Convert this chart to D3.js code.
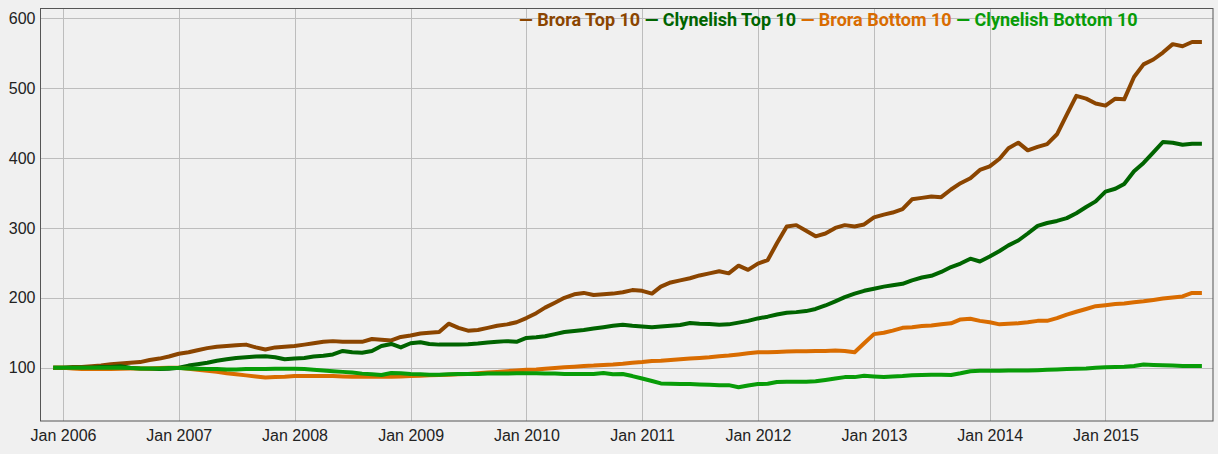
<!DOCTYPE html>
<html>
<head>
<meta charset="utf-8">
<script src="https://cdn.jsdelivr.net/npm/d3@7"></script>
<style>
    body { margin: 0; background: #f0f0f0; }
    svg { display: block; font-family: Roboto, 'Noto Sans', sans-serif; }
    .tickText { font-size: 16px; fill: #222; }
    .legendText { font-size: 18px; font-weight: bold; }
</style>
</head>
<body>
<svg id="chart" width="1218" height="454"></svg>
<script>
// Monthly index values, Dec 2005 .. Nov 2015 (120 months).
var seriesNames = [ 'Brora Top 10', 'Clynelish Top 10', 'Brora Bottom 10', 'Clynelish Bottom 10' ];
var seriesColours = [ '#8b4500', '#006400', '#d96c00', '#089c08' ];

var broraTop = [
    100, 100, 101, 101, 102, 103, 105, 106, 107, 108, 111, 113, 116,
    120, 122, 125, 128, 130, 131, 132, 133, 129, 126, 129, 130, 131,
    133, 135, 137, 138, 137, 137, 137, 141, 140, 139, 144, 146,
    149, 150, 151, 163, 157, 153, 154, 157, 160, 162, 165, 171,
    178, 186, 193, 200, 205, 207, 204, 205, 206, 208, 211, 210,
    206, 216, 222, 225, 228, 232, 235, 238, 235, 246, 240, 249,
    254, 278, 302, 304, 296, 288, 292, 300, 304, 302, 305, 315,
    319, 322, 327, 341, 343, 345, 344, 355, 364, 371, 383, 388,
    399, 414, 422, 411, 416, 420, 434, 462, 489, 485, 478, 475,
    485, 484, 516, 534, 541, 551, 563, 560, 566, 566
];
var clynelishTop = [
    100, 100, 100, 100, 100, 101, 101, 102, 100, 99, 98.5, 98, 98.5,
    100, 103, 105, 107, 110, 112, 114, 115, 116, 116.5, 115, 112, 113,
    114, 116, 117, 119, 124, 122, 121.5, 124, 131, 134, 129, 135,
    136.5, 134, 133, 133, 133, 133.5, 134.5, 136, 137, 138, 137, 142.5,
    143.5, 145, 148, 151, 152.5, 154, 156, 158, 160, 161.5, 160, 159,
    158, 159, 160, 161, 164, 163, 162.5, 161.5, 162, 164.5, 167, 170.5,
    173, 176, 178.5, 179.5, 181, 184, 189, 195, 201, 206, 210, 213,
    216, 218, 220, 225, 229, 231.5, 237, 244, 249, 256, 252, 259,
    267, 275, 282, 292, 303, 307, 310, 314, 321, 330, 338, 352,
    356, 363, 381, 393, 408, 423, 422, 419, 420.5, 420.5
];
var broraBottom = [
    100, 100, 99, 98, 98, 98, 98, 98.5, 99, 99, 99, 99.5, 100,
    100, 98.5, 97, 95.5, 94, 92, 90.5, 89, 87.5, 86, 86.5, 87, 88,
    88, 88, 88, 88, 87.5, 87, 87, 87, 87, 87, 87.5, 88,
    88.5, 89, 89.5, 90, 90.5, 91, 92, 93, 94, 95, 96, 97,
    97.5, 98.5, 99.5, 100.5, 101.5, 102.5, 103, 104, 104.5, 105.5, 107, 108,
    109.5, 110, 111, 112, 113, 114, 115, 116.5, 117.5, 119, 120.5, 122,
    122, 122.5, 123, 123.5, 123.5, 124, 124, 124.5, 124, 122, 135, 148,
    150, 153, 157, 158, 159.5, 160.5, 162, 163.5, 169, 170, 167, 165,
    162, 163, 163.5, 165, 167, 167, 171, 176, 180, 184, 188, 189.5,
    191, 192, 193.5, 195, 197, 199, 200.5, 202, 207, 207
];
var clynelishBottom = [
    100, 100, 100, 100, 100, 100, 100, 100, 99.5, 99, 99, 99, 99.5,
    99.5, 99, 98.5, 98, 98, 97.5, 97.5, 98, 98, 98, 98.5, 98.5, 98.5,
    98, 97, 96, 95, 94, 93, 91.5, 90.5, 89.5, 92.5, 92, 91,
    90.5, 90, 90, 90.5, 91, 91, 91, 91.5, 91.5, 91.5, 92, 92,
    92, 91.5, 91.5, 91, 91, 91, 91, 92.5, 90.5, 91, 88, 84.5,
    81, 77.5, 77, 76.5, 76.5, 76, 75.5, 75, 75, 72, 74.5, 76.5,
    77, 79.5, 80, 80, 80, 80.5, 82.5, 84.5, 86.5, 86.5, 88.5, 87.5,
    86.5, 87.5, 88, 89, 89.5, 90, 90, 89.5, 92, 95, 95.5, 95.5,
    95.5, 96, 96, 96, 96.5, 97, 97.5, 98, 98.5, 99, 100, 100.5,
    101, 101.5, 102.5, 104.5, 104, 103.5, 103, 102.5, 102.5, 102.5
];

var months = d3.timeMonth.range( new Date( 2005, 11, 1 ), new Date( 2015, 11, 1 ) );
var yTicks = [ 100, 200, 300, 400, 500, 600 ];
var xTicks = d3.range( 2006, 2016 ).map( yr => new Date( yr, 0, 1 ) );
var xDomain = [ new Date( 2005, 9, 22 ), new Date( 2015, 11, 6 ) ];
var yDomain = [ 23.7, 614 ];

var Chart = {};
Chart.margins = { left: 40.5, right: 5, top: 8.5, bottom: 33 };

Chart.draw = function () {
    var svg = d3.select( '#chart' ),
        width = +svg.attr( 'width' ),
        height = +svg.attr( 'height' ),
        m = Chart.margins,
        x = d3.scaleTime().domain( xDomain ).range( [ m.left, width - m.right ] ),
        y = d3.scaleLinear().domain( yDomain ).range( [ height - m.bottom, m.top ] ),
        allSeries = [ broraTop, clynelishTop, broraBottom, clynelishBottom ];

    // Grid lines.
    svg.append( 'g' )
        .selectAll( 'line' )
        .data( yTicks )
        .join( 'line' )
        .attr( 'x1', m.left ).attr( 'x2', width - m.right )
        .attr( 'y1', d => Math.round( y( d ) ) + 0.5 ).attr( 'y2', d => Math.round( y( d ) ) + 0.5 )
        .attr( 'stroke', '#bdbdbd' );
    svg.append( 'g' )
        .selectAll( 'line' )
        .data( xTicks )
        .join( 'line' )
        .attr( 'x1', d => Math.round( x( d ) ) + 0.5 ).attr( 'x2', d => Math.round( x( d ) ) + 0.5 )
        .attr( 'y1', m.top ).attr( 'y2', height - m.bottom )
        .attr( 'stroke', '#bdbdbd' );

    // Series lines.
    var line = d3.line()
        .x( ( d, i ) => x( months[ i ] ) )
        .y( d => y( d ) );
    svg.append( 'g' )
        .selectAll( 'path' )
        .data( allSeries )
        .join( 'path' )
        .attr( 'd', d => line( d ) )
        .attr( 'fill', 'none' )
        .attr( 'stroke', ( d, i ) => seriesColours[ i ] )
        .attr( 'stroke-width', 4 )
        .attr( 'stroke-linejoin', 'round' );

    // Plot frame.
    svg.append( 'rect' )
        .attr( 'x', m.left ).attr( 'y', m.top )
        .attr( 'width', width - m.right - m.left ).attr( 'height', height - m.bottom - m.top )
        .attr( 'fill', 'none' )
        .attr( 'stroke', '#555' );

    // Axes labels.
    var yAxis = d3.axisLeft( y ).tickValues( yTicks ).tickSize( 0 ).tickPadding( 5 );
    var yG = svg.append( 'g' ).attr( 'transform', 'translate(' + m.left + ',0)' ).call( yAxis );
    yG.select( '.domain' ).remove();
    yG.selectAll( 'text' ).attr( 'class', 'tickText' ).attr( 'font-family', null ).attr( 'font-size', null );

    var xAxis = d3.axisBottom( x ).tickValues( xTicks ).tickSize( 0 ).tickPadding( 9 ).tickFormat( d3.timeFormat( 'Jan %Y' ) );
    var xG = svg.append( 'g' ).attr( 'transform', 'translate(0,' + ( height - m.bottom ) + ')' ).call( xAxis );
    xG.select( '.domain' ).remove();
    xG.selectAll( 'text' ).attr( 'class', 'tickText' ).attr( 'font-family', null ).attr( 'font-size', null );

    // Legend.
    var legendX = 519;
    var legend = svg.append( 'g' ).attr( 'transform', 'translate(0,26)' );
    seriesNames.forEach( function ( name, i ) {
        var t = legend.append( 'text' )
            .attr( 'class', 'legendText' )
            .attr( 'x', legendX )
            .attr( 'fill', seriesColours[ i ] )
            .text( '\u2014 ' + name );
        legendX += t.node().getComputedTextLength() + 4.5;
    } );
};

Chart.draw();
</script>
</body>
</html>
